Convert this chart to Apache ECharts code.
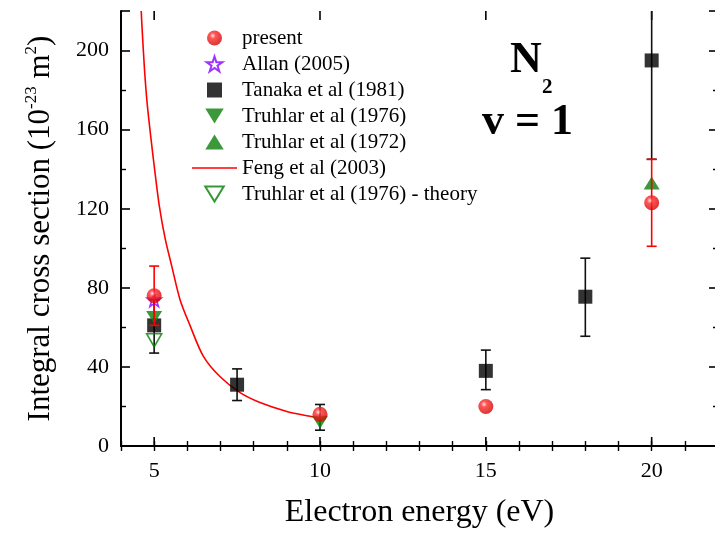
<!DOCTYPE html>
<html><head><meta charset="utf-8">
<script src="https://cdn.jsdelivr.net/npm/echarts@6/dist/echarts.min.js"></script>
<style>html,body{margin:0;padding:0;background:#fff}#c{width:715px;height:538px}</style>
</head><body><div id="c"></div>
<script>
// ---- data ----
var xTickLabels = [5, 10, 15, 20];
var yTickLabels = [0, 40, 80, 120, 160, 200];
var presentData = [[5, 76], [10, 16], [15, 20], [20, 123]];
var presentErr = [[5, 61, 91], [20, 101, 145]];
var allanData = [[5, 74]];
var tanakaData = [[5, 61], [7.5, 31], [15, 38], [18, 75.5], [20, 195]];
var tanakaErr = [[5, 47, 74], [7.5, 23, 39], [10, 8, 21], [15, 28.5, 48.5], [18, 55.5, 95], [20, 145, 245]];
var truhlar76Data = [[5, 65], [10, 12]];
var truhlar72Data = [[20, 133]];
var truhlarTheoryData = [[5, 53.5]];
var fengData = [[4.61, 220], [4.63, 213], [4.71, 190], [4.79, 173], [4.9, 156], [5.02, 139], [5.15, 122], [5.33, 105], [5.53, 91], [5.78, 74], [6.08, 61], [6.48, 45.5], [6.99, 35], [7.59, 27], [8.19, 22], [9.0, 17.5], [9.7, 15], [9.95, 14]];
var legendNames = ['present', 'Allan (2005)', 'Tanaka et al (1981)', 'Truhlar et al (1976)', 'Truhlar et al (1972)', 'Feng et al (2003)', 'Truhlar et al (1976) - theory'];

var SERIF = 'Liberation Serif';
var starPath = 'path://M50,2 L61,36 L97,36 L68,57 L79,92 L50,71 L21,92 L32,57 L3,36 L39,36 Z';
var squarePath = 'path://M0,0 L10,0 L10,10 L0,10 Z';
var downTri = 'path://M0,0 L16,0 L8,13 Z';
var upTri = 'path://M8,0 L16,13 L0,13 Z';
var linePath = 'path://M0,0 L60,0 L60,2 L0,2 Z';
var sphere = {type: 'radial', x: 0.38, y: 0.35, r: 0.7, colorStops: [{offset: 0, color: '#ffe0e0'}, {offset: 0.28, color: '#ff2a2a'}, {offset: 1, color: '#d00000'}]};

function errRender(color) {
  return function (params, api) {
    var x = api.value(0), lo = api.value(1), hi = api.value(2);
    var cs = params.coordSys;
    var pTop = api.coord([x, hi]), pBot = api.coord([x, lo]);
    var topY = Math.max(pTop[1], cs.y);
    var children = [{type: 'line', shape: {x1: pTop[0], y1: topY, x2: pBot[0], y2: pBot[1]}, style: {stroke: color, lineWidth: 1.6}},
      {type: 'line', shape: {x1: pBot[0] - 5, y1: pBot[1], x2: pBot[0] + 5, y2: pBot[1]}, style: {stroke: color, lineWidth: 1.6}}];
    if (pTop[1] >= cs.y) children.push({type: 'line', shape: {x1: pTop[0] - 5, y1: pTop[1], x2: pTop[0] + 5, y2: pTop[1]}, style: {stroke: color, lineWidth: 1.6}});
    return {type: 'group', children: children};
  };
}
function majorTickRender(side) {
  return function (params, api) {
    var cs = params.coordSys;
    var p = api.coord([api.value(0), 0]);
    var y0 = side === 'bottom' ? cs.y + cs.height : cs.y;
    var y1 = side === 'bottom' ? y0 - 9 : y0 + 9;
    return {type: 'line', shape: {x1: p[0], y1: y0, x2: p[0], y2: y1}, style: {stroke: '#000', lineWidth: 1.6}};
  };
}

var axisLine = {show: true, lineStyle: {color: '#000', width: 2}};
var chart = echarts.init(document.getElementById('c'));
chart.setOption({
  animation: false,
  backgroundColor: '#fff',
  grid: {left: 121, top: 11, width: 597, height: 435, containLabel: false, outerBoundsMode: 'none'},
  xAxis: [{
    type: 'value', min: 4, max: 22, interval: 1, position: 'bottom',
    axisLine: axisLine, splitLine: {show: false},
    axisTick: {inside: true, length: 5, lineStyle: {color: '#000', width: 1.4}},
    axisLabel: {margin: 14, fontFamily: SERIF, fontSize: 22, color: '#000',
      formatter: function (v) { return xTickLabels.indexOf(v) >= 0 ? String(v) : ''; }},
    name: 'Electron energy (eV)', nameLocation: 'middle', nameGap: 51,
    nameTextStyle: {fontFamily: SERIF, fontSize: 32, color: '#000'}
  }, {
    type: 'value', min: 4, max: 22, interval: 1, position: 'top',
    axisLine: axisLine, splitLine: {show: false},
    axisTick: {inside: true, length: 5, lineStyle: {color: '#000', width: 1.4}},
    axisLabel: {show: false}
  }],
  yAxis: [{
    type: 'value', min: 0, max: 220, interval: 40, position: 'left',
    axisLine: axisLine, splitLine: {show: false},
    axisTick: {inside: true, length: 9, lineStyle: {color: '#000', width: 1.6}},
    minorTick: {show: true, splitNumber: 2, length: 5, lineStyle: {color: '#000', width: 1.4}},
    axisLabel: {margin: 12, fontFamily: SERIF, fontSize: 22, color: '#000', showMaxLabel: false,
      formatter: function (v) { return yTickLabels.indexOf(v) >= 0 ? String(v) : ''; }},
    name: 'Integral cross section (10{sup|-23} m{sup|2})', nameLocation: 'middle', nameGap: 62, nameRotate: 90,
    nameTextStyle: {fontFamily: SERIF, fontSize: 31, color: '#000', lineHeight: 36,
      rich: {sup: {fontFamily: SERIF, fontSize: 17, color: '#000', verticalAlign: 'top', lineHeight: 17}}}
  }, {
    type: 'value', min: 0, max: 220, interval: 40, position: 'right',
    axisLine: axisLine, splitLine: {show: false},
    axisTick: {inside: true, length: 9, lineStyle: {color: '#000', width: 1.6}},
    minorTick: {show: true, splitNumber: 2, length: 5, lineStyle: {color: '#000', width: 1.4}},
    axisLabel: {show: false}
  }],
  legend: {
    orient: 'vertical', left: 192, top: 25, padding: 0, itemWidth: 45, itemHeight: 15, itemGap: 0,
    textStyle: {fontFamily: SERIF, fontSize: 21, lineHeight: 26, color: '#000'},
    data: [
      {name: legendNames[0], icon: 'circle'},
      {name: legendNames[1], icon: starPath},
      {name: legendNames[2], icon: squarePath},
      {name: legendNames[3], icon: downTri},
      {name: legendNames[4], icon: upTri},
      {name: legendNames[5], icon: linePath},
      {name: legendNames[6], icon: downTri}
    ]
  },
  graphic: [
    {type: 'text', left: 510, top: 39, style: {text: 'N', font: 'bold 44px "Liberation Serif"', fill: '#000'}},
    {type: 'text', left: 542, top: 77, style: {text: '2', font: 'bold 21px "Liberation Serif"', fill: '#000'}},
    {type: 'text', left: 482, top: 101, style: {text: 'v = 1', font: 'bold 44px "Liberation Serif"', fill: '#000'}}
  ],
  series: [
    {type: 'custom', xAxisIndex: 0, renderItem: majorTickRender('bottom'), data: xTickLabels.map(function (v) { return [v]; }), silent: true, z: 1},
    {type: 'custom', xAxisIndex: 0, renderItem: majorTickRender('top'), data: xTickLabels.map(function (v) { return [v]; }), silent: true, z: 1},
    {name: 'Feng et al (2003)', type: 'line', data: fengData, showSymbol: false, symbol: 'none', smooth: 0.3, clip: true,
      lineStyle: {color: '#ff0000', width: 1.6}, itemStyle: {color: '#ff0000'}, z: 2},
    {type: 'custom', renderItem: errRender('#111'), data: tanakaErr, silent: true, z: 3},
    {name: 'Tanaka et al (1981)', type: 'scatter', data: tanakaData, symbol: squarePath, symbolSize: 14, itemStyle: {color: '#000'}, z: 4},
    {name: 'Truhlar et al (1976) - theory', type: 'scatter', data: truhlarTheoryData, symbol: downTri, symbolSize: [15, 13],
      itemStyle: {color: 'rgba(255,255,255,0)', borderColor: '#008000', borderWidth: 1.6}, z: 4},
    {name: 'Truhlar et al (1976)', type: 'scatter', data: truhlar76Data, symbol: downTri, symbolSize: [16, 13], itemStyle: {color: '#0a800a'}, z: 4},
    {name: 'Truhlar et al (1972)', type: 'scatter', data: truhlar72Data, symbol: upTri, symbolSize: [16, 13], itemStyle: {color: '#0a800a'}, z: 4},
    {type: 'custom', renderItem: errRender('#ff0000'), data: presentErr, silent: true, z: 5},
    {name: 'Allan (2005)', type: 'scatter', data: allanData, symbol: starPath, symbolSize: 14,
      itemStyle: {color: 'rgba(255,255,255,0)', borderColor: '#8a00ff', borderWidth: 1.6}, z: 5},
    {name: 'present', type: 'scatter', data: presentData, symbol: 'circle', symbolSize: 15, itemStyle: {color: sphere}, z: 6}
  ]
});
</script></body></html>
